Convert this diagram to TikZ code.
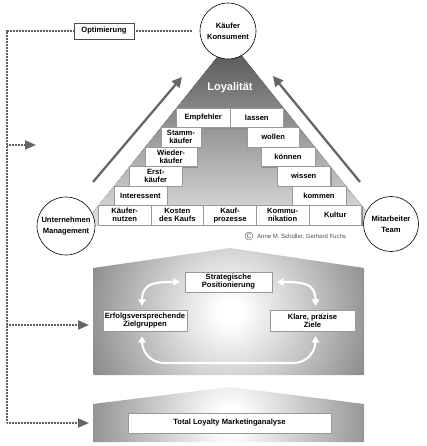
\documentclass[tikz,border=0pt]{standalone}
\usepackage{fontspec}
\setmainfont{Liberation Sans}
\usetikzlibrary{arrows.meta,shadows}
\pgfdeclareradialshading{houseshade}{\pgfpoint{0bp}{0bp}}{color(0bp)=(white); color(2bp)=(white); color(35bp)=(black!66); color(50bp)=(black!80)}
\begin{document}
\begin{tikzpicture}[x=1pt,y=-1pt,
  box/.style={draw=black!40, line width=0.4pt, fill=white, inner sep=0pt, align=center,
    font=\bfseries\fontsize{7.6}{8}\selectfont,
    drop shadow={shadow xshift=1.2pt, shadow yshift=-1.2pt, fill=black!45, opacity=1}},
  circ/.style={circle, draw=black, line width=0.6pt, fill=white, inner sep=0pt, align=center,
    font=\bfseries\fontsize{7.6}{11}\selectfont},
  dots/.style={draw=black!62, line width=2pt, dash pattern=on 0.9pt off 0.6pt},
  dotarrow/.style={dots, -{Triangle[length=11pt,width=9pt,color=black!60]}},
  bigarrow/.style={draw=black!60, line width=2.3pt, -{Triangle[length=10pt,width=10pt]}},
  warrow/.style={draw=white, line width=2.1pt, {Triangle[length=6.5pt,width=7.5pt]}-{Triangle[length=6.5pt,width=7.5pt]}}
]
\useasboundingbox (0,0) rectangle (427,446);

% pyramid
\fill[top color=black!68, middle color=black!38, bottom color=black!12]
  (230,41) -- (377.2,225) -- (82.8,225) -- cycle;
\node[font=\bfseries\fontsize{11}{12}\selectfont, text=white] (loy) at (230,88) {Loyalität};

% houses
\begin{scope}
\clip (93,268) -- (230,248) -- (364,268) -- (364,375) -- (93,375) -- cycle;
\shade[shading=houseshade] (230,312) circle (150);
\end{scope}
\begin{scope}
\clip (93,404) -- (230,387) -- (364,404) -- (364,442) -- (93,442) -- cycle;
\shade[shading=houseshade] (230,420) circle (150);
\end{scope}

% big arrows
\coordinate (la1) at (93,182); \coordinate (la2) at (182,77);
\coordinate (ra1) at (360,182); \coordinate (ra2) at (273,76);
\draw[bigarrow] (la1) -- (la2);
\draw[bigarrow] (ra1) -- (ra2);

% pyramid boxes
\node[box, minimum width=53.6, minimum height=19.5] (emp) at (203.2,117.75) {Empfehler};
\node[box, minimum width=53.6, minimum height=19.5] (las) at (256.8,117.75) {lassen};
\node[box, minimum width=40.2, minimum height=19.5] (stm) at (180.9,137.25) {Stamm-\\käufer};
\node[box, minimum width=52.2, minimum height=19.5] (wol) at (273.1,137.25) {wollen};
\node[box, minimum width=51.8, minimum height=19.5] (wie) at (171.1,156.75) {Wieder-\\käufer};
\node[box, minimum width=53.8, minimum height=19.5] (kon) at (287.9,156.75) {können};
\node[box, minimum width=52.4, minimum height=19.5] (ers) at (155.8,176.25) {Erst-\\käufer};
\node[box, minimum width=53.4, minimum height=19.5] (wis) at (303.7,176.25) {wissen};
\node[box, minimum width=53, minimum height=19.5] (int) at (140.5,195.75) {Interessent};
\node[box, minimum width=54, minimum height=19.5] (kom) at (319,195.75) {kommen};
\node[box, minimum width=52.64, minimum height=19.5] (b1) at (124.72,215.25) {Käufer-\\nutzen};
\node[box, minimum width=52.64, minimum height=19.5] (b2) at (177.36,215.25) {Kosten\\des Kaufs};
\node[box, minimum width=52.64, minimum height=19.5] (b3) at (230,215.25) {Kauf-\\prozesse};
\node[box, minimum width=52.64, minimum height=19.5] (b4) at (282.64,215.25) {Kommu-\\nikation};
\node[box, minimum width=52.64, minimum height=19.5] (b5) at (335.28,215.25) {Kultur};

% circles
\node[circ, minimum size=56] (kc) at (228,31) {Käufer\\Konsument};
\node[circ, minimum size=58] (um) at (66,226) {Unternehmen\\Management};
\node[circ, minimum size=55] (mt) at (391,224) {Mitarbeiter\\Team};

% copyright
\node[circle, draw=black!65, line width=0.4pt, inner sep=0.5pt, text=black!70,
  font=\fontsize{6.5}{6.5}\selectfont] (crc) at (249,236) {C};
\node[anchor=west, inner sep=0pt, text=black!70, font=\fontsize{6}{6}\selectfont] (crt) at (257,236.5) {Anne M. Schüller, Gerhard Fuchs};

% middle house boxes
\node[box, minimum width=87, minimum height=20] (sp) at (228.5,282) {Strategische\\Positionierung};
\node[box, minimum width=84, minimum height=21] (zg) at (145,320.5) {Erfolgsversprechende\\Zielgruppen};
\node[box, minimum width=85, minimum height=21] (kz) at (312.5,320.5) {Klare, präzise\\Ziele};
\node[box, minimum width=203, minimum height=20] (tl) at (229.5,423) {Total Loyalty Marketinganalyse};

% white arrows
\coordinate (wb) at (230,363);
\draw[warrow] ([xshift=-3pt,yshift=4pt]zg.north) .. controls +(0,-24) and +(-22,0) .. ([xshift=-5pt]sp.west);
\draw[warrow] ([xshift=5pt]sp.east) .. controls +(22,0) and +(0,-24) .. ([xshift=3pt,yshift=4pt]kz.north);
\draw[warrow, rounded corners=22pt] ([xshift=-3pt,yshift=-5pt]zg.south) |- (wb) -| ([xshift=3pt,yshift=-5pt]kz.south);

% optimierung & dotted lines
\node[draw=black!70, line width=0.5pt, fill=white, minimum width=60, minimum height=16, inner sep=0pt,
  font=\bfseries\fontsize{7.6}{8}\selectfont] (opt) at (104,31) {Optimierung};
\coordinate (d0) at (7,31); \coordinate (d1) at (7,145); \coordinate (d2) at (7,325); \coordinate (d3) at (7,423);
\coordinate (e1) at (36,145); \coordinate (e2) at (89,325); \coordinate (e3) at (89,423);
\draw[dots] (opt.west) -- (d0) -- (d3);
\draw[dots] (opt.east) -- ([xshift=-7pt]kc.west);
\draw[dotarrow] (d1) -- (e1);
\draw[dotarrow] (d2) -- (e2);
\draw[dotarrow] (d3) -- (e3);
\end{tikzpicture}
\end{document}
